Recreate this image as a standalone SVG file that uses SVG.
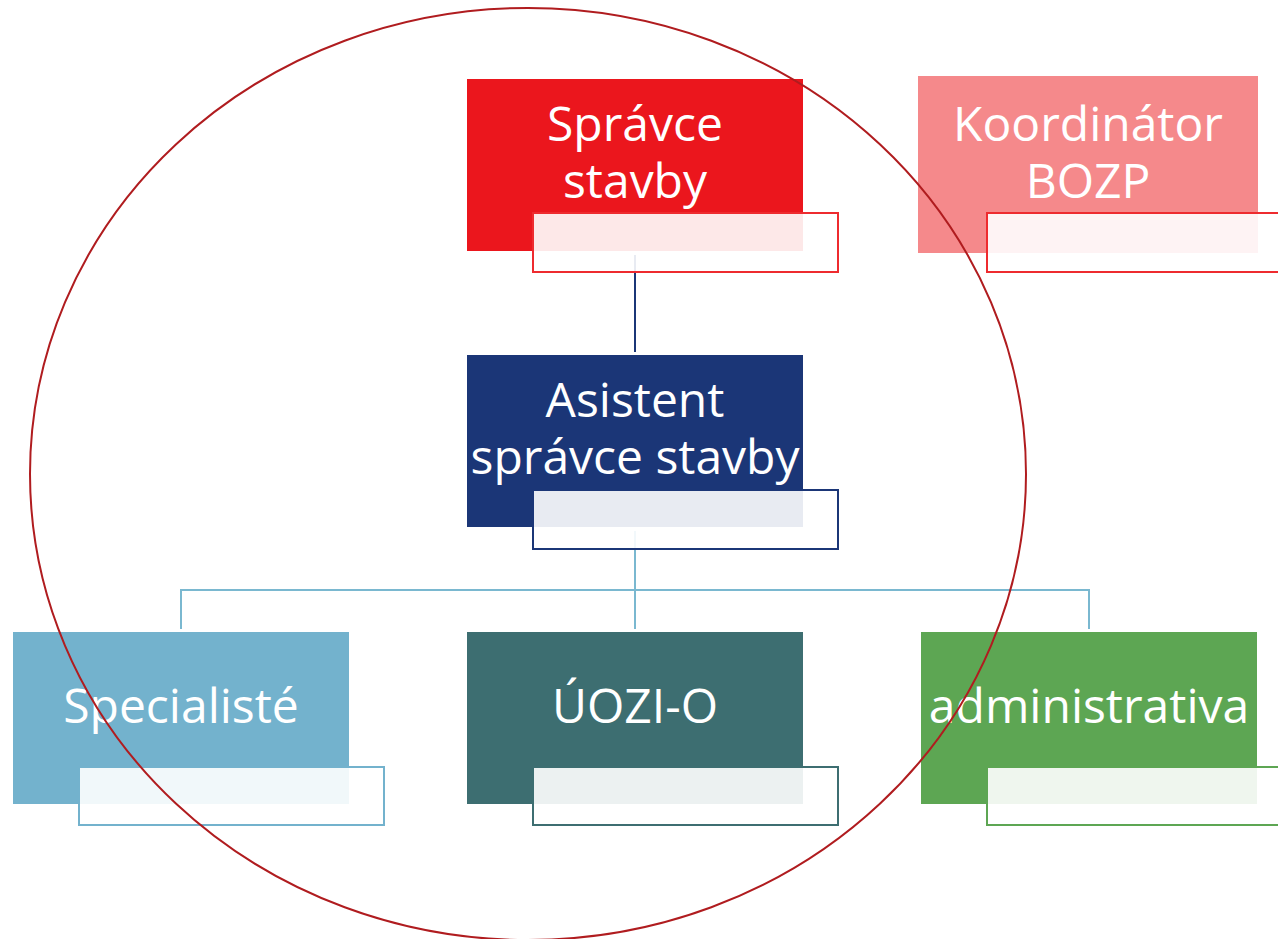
<svg xmlns="http://www.w3.org/2000/svg" width="1278" height="939" viewBox="0 0 1278 939">
  <style>
    .lbl { font-family: "Open Sans", "Liberation Sans", sans-serif; font-size: 48px; fill: #ffffff; text-anchor: middle; }
    .tag { fill: #ffffff; fill-opacity: 0.9; stroke-width: 2; }
    .conn { fill: none; stroke-width: 2; }
  </style>
  <rect width="1278" height="939" fill="#ffffff"/>

  <g id="connectors">
    <line class="conn" x1="635" y1="255" x2="635" y2="352" stroke="#1B3677"/>
    <path class="conn" d="M635 531 V629 M181 629 V590 H1089 V629" stroke="#7AB8D0"/>
  </g>

  <g id="spravce">
    <rect x="467" y="79" width="336" height="172" fill="#EB161D"/>
    <text class="lbl" x="635" y="141">Správce</text>
    <text class="lbl" x="635" y="198">stavby</text>
    <rect class="tag" x="533" y="213" width="305" height="59" stroke="#EE2B2F"/>
  </g>

  <g id="koordinator">
    <rect x="918" y="76" width="340" height="177" fill="#F5898B"/>
    <text class="lbl" x="1088" y="141">Koordinátor</text>
    <text class="lbl" x="1088" y="198">BOZP</text>
    <rect class="tag" x="987" y="213" width="305" height="59" stroke="#EE2B2F"/>
  </g>

  <g id="asistent">
    <rect x="467" y="355" width="336" height="172" fill="#1B3677"/>
    <text class="lbl" x="635" y="417">Asistent</text>
    <text class="lbl" x="635" y="474">správce stavby</text>
    <rect class="tag" x="533" y="490" width="305" height="59" stroke="#1B3677"/>
  </g>

  <g id="specialiste">
    <rect x="13" y="632" width="336" height="172" fill="#73B2CD"/>
    <text class="lbl" x="181" y="723">Specialisté</text>
    <rect class="tag" x="79" y="767" width="305" height="58" stroke="#73B2CD"/>
  </g>

  <g id="uozi">
    <rect x="467" y="632" width="336" height="172" fill="#3D6E71"/>
    <text class="lbl" x="635" y="723">ÚOZI-O</text>
    <rect class="tag" x="533" y="767" width="305" height="58" stroke="#3D6E71"/>
  </g>

  <g id="administrativa">
    <rect x="921" y="632" width="336" height="172" fill="#5DA653"/>
    <text class="lbl" x="1089" y="723">administrativa</text>
    <rect class="tag" x="987" y="767" width="305" height="58" stroke="#5DA653"/>
  </g>

  <g id="boundary">
    <ellipse cx="528" cy="474" rx="498" ry="466" fill="none" stroke="#B01C1F" stroke-width="2"/>
  </g>
</svg>
